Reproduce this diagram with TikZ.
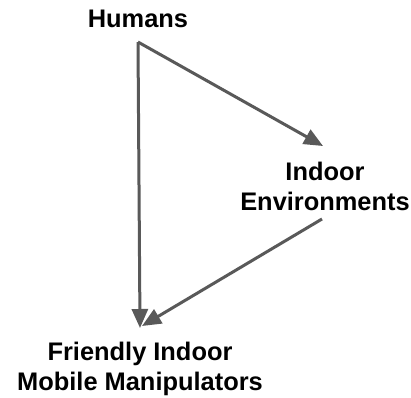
\documentclass[tikz,border=0pt]{standalone}
\usepackage{fontspec}
\setmainfont{Liberation Sans}
\usetikzlibrary{arrows.meta}
\begin{document}
\begin{tikzpicture}[x=1bp,y=-1bp,
  lbl/.style={font=\bfseries\fontsize{25.5}{29.5}\selectfont, align=center, anchor=base, inner sep=0pt, text=black},
  arr/.style={draw=black!65, line width=3bp, -{Triangle[length=19bp,width=16bp]}}]
\fill[white] (0,0) rectangle (411,398);
\useasboundingbox (0,0) rectangle (411,398);
\node[lbl] (hum) at (138,27) {Humans};
\node[lbl] (env) at (325,210) {Indoor\\Environments};
\node[lbl] (rob) at (140,390) {Friendly Indoor\\Mobile Manipulators};
\coordinate (hs) at (138,42);
\coordinate (et) at (323,146);
\coordinate (es) at (322,219);
\coordinate (rt) at (140,328);
\coordinate (rt2) at (142,326);
\draw[arr] (hs) -- (rt);
\draw[arr] (hs) -- (et);
\draw[arr] (es) -- (rt2);
\end{tikzpicture}
\end{document}
